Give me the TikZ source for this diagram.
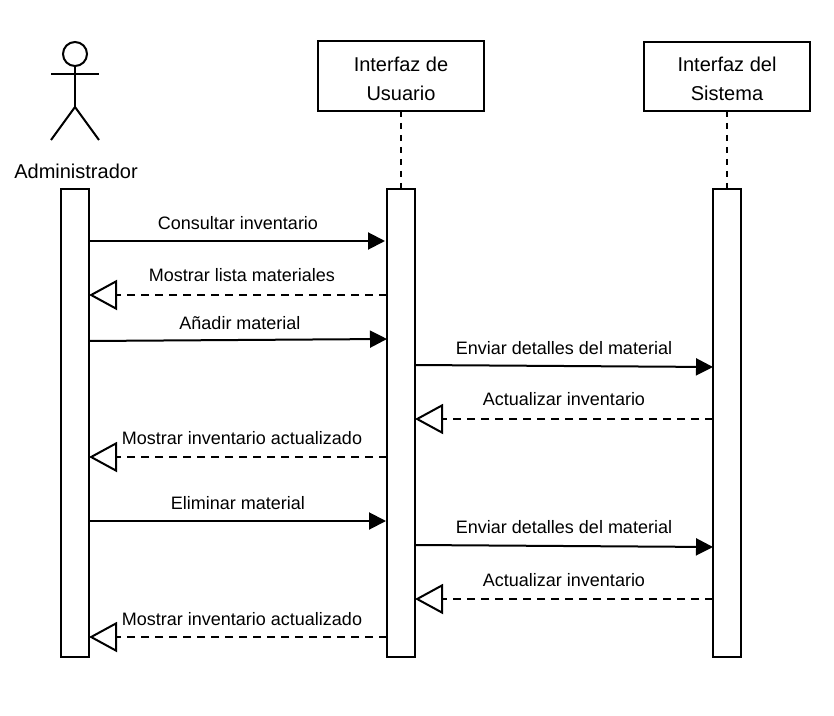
\documentclass[tikz,border=0pt]{standalone}
\usepackage{fontspec}
\setmainfont{Liberation Sans}
\usetikzlibrary{arrows.meta}
\tikzset{
  lifebox/.style={draw, line width=1.5pt, outer sep=0pt, inner sep=0pt, align=center, minimum width=124.5pt, font=\fontsize{15}{21.75}\selectfont},
  lifebar/.style={draw, line width=1.5pt, outer sep=0pt, inner sep=0pt, minimum width=21pt, minimum height=351pt},
  msgtext/.style={inner sep=0pt, font=\fontsize{13.5}{16}\selectfont},
  lifeline/.style={line width=1.5pt, dash pattern=on 4.5pt off 4.5pt},
  callmsg/.style={line width=1.5pt, -{Triangle[length=12.75pt,width=12.75pt]}},
  replymsg/.style={line width=1.5pt, dash pattern=on 6pt off 4.5pt, -{Triangle[open,length=21pt,width=22.5pt,line width=1.5pt]}}
}
\begin{document}
\begin{tikzpicture}[x=0.75pt,y=-0.75pt]
       \useasboundingbox (0,0) rectangle (834,716);
       % actor
       \node[circle, draw, line width=1.5pt, outer sep=0pt, inner sep=0pt, minimum size=18pt] (head) at (75,54) {};
       \coordinate (hip) at (75,107);
       \coordinate (armL) at (51,74);
       \coordinate (armR) at (99,74);
       \coordinate (footL) at (51,140);
       \coordinate (footR) at (99,140);
       \draw[line width=1.5pt] (head.south) -- (hip);
       \draw[line width=1.5pt] (armL) -- (armR);
       \draw[line width=1.5pt] (footL) -- (hip) -- (footR);
       \node[inner sep=0pt, font=\fontsize{15}{18}\selectfont] (admin) at (76,171) {Administrador};
       % boxes and bars
       \node[lifebox, minimum height=52.5pt] (boxUser) at (401,76) {\rule{0pt}{14.5pt}Interfaz de\\Usuario};
       \node[lifebox, minimum height=51.75pt] (boxSys) at (727,76.5) {\rule{0pt}{14.5pt}Interfaz del\\Sistema};
       \node[lifebar] (barAdmin) at (75,423) {};
       \node[lifebar] (barUser) at (401,423) {};
       \node[lifebar] (barSys) at (727,423) {};
       \draw[lifeline] (boxUser) -- (barUser);
       \draw[lifeline] (boxSys) -- (barSys);
       % messages
       \draw[callmsg, shorten >=1.5pt] (barAdmin.east |- 0,241) -- (barUser.west |- 0,241);
       \node[msgtext] (m1) at (238,223) {Consultar inventario};
       \draw[replymsg] (barUser.west |- 0,295) -- (barAdmin.east |- 0,295);
       \node[msgtext] (m2) at (242,275) {Mostrar lista materiales};
       \draw[callmsg] (barAdmin.east |- 0,341) -- (barUser.west |- 0,339);
       \node[msgtext] (m3) at (240,323) {Añadir material};
       \draw[callmsg] (barUser.east |- 0,365) -- (barSys.west |- 0,367);
       \node[msgtext] (m4) at (564,348) {Enviar detalles del material};
       \draw[replymsg] (barSys.west |- 0,419) -- (barUser.east |- 0,419);
       \node[msgtext] (m5) at (564,399) {Actualizar inventario};
       \draw[replymsg] (barUser.west |- 0,457) -- (barAdmin.east |- 0,457);
       \node[msgtext] (m6) at (242,438) {Mostrar inventario actualizado};
       \draw[callmsg, shorten >=0.75pt] (barAdmin.east |- 0,521) -- (barUser.west |- 0,521);
       \node[msgtext] (m7) at (238,503) {Eliminar material};
       \draw[callmsg] (barUser.east |- 0,545) -- (barSys.west |- 0,547);
       \node[msgtext] (m8) at (564,527) {Enviar detalles del material};
       \draw[replymsg] (barSys.west |- 0,599) -- (barUser.east |- 0,599);
       \node[msgtext] (m9) at (564,580) {Actualizar inventario};
       \draw[replymsg] (barUser.west |- 0,637) -- (barAdmin.east |- 0,637);
       \node[msgtext] (m10) at (242,619) {Mostrar inventario actualizado};
\end{tikzpicture}
\end{document}
